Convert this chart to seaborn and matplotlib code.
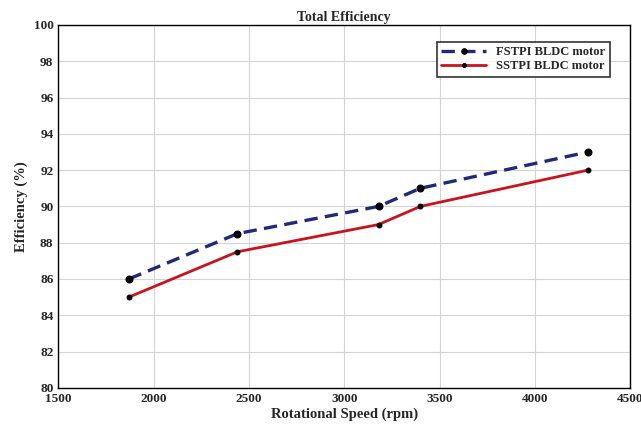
import matplotlib
matplotlib.use("Agg")
import matplotlib.pyplot as plt
import seaborn as sns
import pandas as pd

# Data
speed_fstpi = [1870, 2440, 3180, 3400, 4280]
eff_fstpi = [86.0, 88.5, 90.0, 91.0, 93.0]
speed_sstpi = [1870, 2440, 3180, 3400, 4280]
eff_sstpi = [85.0, 87.5, 89.0, 90.0, 92.0]
x_ticks = [1500, 2000, 2500, 3000, 3500, 4000, 4500]
y_ticks = [80, 82, 84, 86, 88, 90, 92, 94, 96, 98, 100]

df_f = pd.DataFrame({"speed": speed_fstpi, "eff": eff_fstpi})
df_s = pd.DataFrame({"speed": speed_sstpi, "eff": eff_sstpi})

sns.set_style("white")
plt.rcParams["font.family"] = ["Liberation Serif", "DejaVu Serif"]
plt.rcParams["font.weight"] = "bold"

fig, ax = plt.subplots(figsize=(6.41, 4.30), dpi=100)
fig.subplots_adjust(left=0.091, right=0.983, top=0.942, bottom=0.098)

sns.lineplot(data=df_f, x="speed", y="eff", ax=ax, color="#1f2a7a",
             linestyle=(0, (4, 2.2)), linewidth=2.4, marker="o",
             markersize=5, markerfacecolor="black", markeredgecolor="black",
             label="FSTPI BLDC motor")
sns.lineplot(data=df_s, x="speed", y="eff", ax=ax, color="#c8141e",
             linewidth=2.0, marker="o", markersize=3.5,
             markerfacecolor="black", markeredgecolor="black",
             label="SSTPI BLDC motor")

ax.set_xlim(1500, 4500)
ax.set_ylim(80, 100)
ax.set_xticks(x_ticks)
ax.set_yticks(y_ticks)
ax.grid(True, color="#d4d4d4", linewidth=0.8)
ax.tick_params(direction="in", length=4, labelsize=9.5, width=0.8)
for lbl in ax.get_xticklabels() + ax.get_yticklabels():
    lbl.set_fontweight("bold")
for side in ax.spines.values():
    side.set_color("black")
    side.set_linewidth(1.0)

ax.set_title("Total Efficiency", fontsize=10, fontweight="bold", pad=3)
ax.set_xlabel("Rotational Speed (rpm)", fontsize=10.5, fontweight="bold", labelpad=2)
ax.set_ylabel("Efficiency (%)", fontsize=10.5, fontweight="bold", labelpad=4)

leg = ax.legend(loc="upper right", fontsize=9, frameon=True, fancybox=False,
                edgecolor="black", borderpad=0.35, handlelength=3.6,
                labelspacing=0.15, markerscale=0.8,
                bbox_to_anchor=(0.975, 0.97))
leg.get_frame().set_linewidth(1.2)
for t in leg.get_texts():
    t.set_fontweight("bold")

fig.savefig("out.png", dpi=100)
